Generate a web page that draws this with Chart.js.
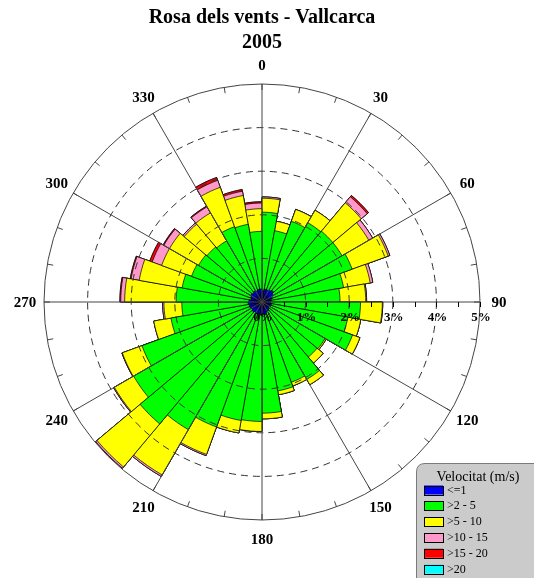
<!DOCTYPE html>
<html><head><meta charset="utf-8">
<script src="https://cdn.jsdelivr.net/npm/chart.js@4/dist/chart.umd.min.js"></script>
<style>html,body{margin:0;padding:0;background:#fff;}</style>
</head><body>
<canvas id="c" width="534" height="578"></canvas>
<script>
// ---- data (percent of observations per 10° sector, per speed class) ----
const directions = [0,10,20,30,40,50,60,70,80,90,100,110,120,130,140,150,160,170,180,190,200,210,220,230,240,250,260,270,280,290,300,310,320,330,340,350];
const speedClasses = ['<=1', '>2 - 5', '>5 - 10', '>10 - 15', '>15 - 20', '>20'];
const speedLe1   = [0.25,0.30,0.30,0.32,0.35,0.30,0.25,0.22,0.20,0.20,0.22,0.20,0.20,0.22,0.25,0.25,0.30,0.28,0.30,0.28,0.30,0.28,0.30,0.28,0.30,0.30,0.32,0.30,0.25,0.28,0.30,0.28,0.30,0.28,0.30,0.30];
const speed2to5  = [1.81,1.36,1.67,1.78,1.77,1.82,1.95,1.68,1.59,2.06,1.78,2.01,1.47,1.43,1.80,1.71,1.77,2.27,2.44,2.48,2.75,3.10,3.35,3.12,2.63,1.82,1.52,1.67,1.61,1.44,1.38,1.37,1.32,1.56,1.51,1.32];
const speed5to10 = [0.32,0.22,0.29,0.33,0.85,0.71,0.88,0.62,0.59,0.50,0.30,0.18,0.03,0.18,0.14,0.09,0.09,0.13,0.23,0.29,0.67,1.20,1.29,0.51,0.48,0.40,0.41,1.18,1.00,0.73,0.77,0.68,0.74,0.96,0.67,0.52];
const speed10to15= [0.03,0,0,0,0.18,0.10,0.04,0.06,0.02,0.01,0,0,0,0,0,0,0,0,0,0,0.03,0.04,0.04,0.02,0.01,0,0.03,0.09,0.19,0.23,0.15,0.04,0.16,0.17,0.10,0.13];
const speed15to20= [0,0,0,0,0.04,0,0,0,0,0,0,0,0,0,0,0,0,0,0,0,0,0,0,0,0,0,0,0.02,0.02,0.06,0.02,0,0.02,0.07,0.04,0.03];
const speedGt20  = [0,0,0,0,0,0,0,0,0,0,0,0,0,0,0,0,0,0,0,0,0,0,0,0,0,0,0,0,0,0,0,0,0,0,0,0];
const radialTicks = [0,1,2,3,4,5];
const directionLabels = [0,30,60,90,120,150,180,210,240,270,300,330];
const titleLines = ['Rosa dels vents - Vallcarca', '2005'];
const legendTitle = 'Velocitat (m/s)';

// ---- styles ----
const colors = ['#0000ff','#00ff00','#ffff00','#ff99cc','#ff0000','#00ffff'];
const SERIF = '"Liberation Serif", "Times New Roman", serif';

// stacked (cumulative) radii, drawn innermost on top
const series = [speedLe1, speed2to5, speed5to10, speed10to15, speed15to20, speedGt20];
let acc = directions.map(() => 0);
const datasets = series.map((s, k) => {
  acc = acc.map((a, i) => Math.round((a + s[i]) * 1000) / 1000);
  return {
    label: speedClasses[k],
    data: acc.slice(),
    backgroundColor: colors[k],
    borderColor: '#000',
    borderWidth: 0.7,
    angle: 10
  };
});

const decor = {
  id: 'decor',
  afterDatasetsDraw(chart) {
    const s = chart.scales.r;
    const ctx = chart.ctx;
    const cx = s.xCenter, cy = s.yCenter;
    const R = s.getDistanceFromCenterForValue(radialTicks[radialTicks.length - 1]);
    ctx.save();
    // dashed inner rings
    ctx.strokeStyle = '#333';
    ctx.lineWidth = 1;
    ctx.setLineDash([7, 5]);
    radialTicks.slice(1, -1).forEach(v => {
      ctx.beginPath();
      ctx.arc(cx, cy, s.getDistanceFromCenterForValue(v), 0, Math.PI * 2);
      ctx.stroke();
    });
    ctx.setLineDash([]);
    // outer ring
    ctx.strokeStyle = '#444';
    ctx.beginPath();
    ctx.arc(cx, cy, R, 0, Math.PI * 2);
    ctx.stroke();
    // spokes
    ctx.strokeStyle = '#444';
    directionLabels.forEach(d => {
      const a = (d - 90) * Math.PI / 180;
      ctx.beginPath();
      ctx.moveTo(cx, cy);
      ctx.lineTo(cx + R * Math.cos(a), cy + R * Math.sin(a));
      ctx.stroke();
    });
    // outer ticks every sector
    directions.forEach(d => {
      const a = (d - 90) * Math.PI / 180;
      ctx.beginPath();
      ctx.moveTo(cx + R * Math.cos(a), cy + R * Math.sin(a));
      ctx.lineTo(cx + (R - 6) * Math.cos(a), cy + (R - 6) * Math.sin(a));
      ctx.stroke();
    });
    // axis minor ticks along 90° spoke
    ctx.strokeStyle = '#000';
    for (let k = 1; k < radialTicks.length; k++) {
      [radialTicks[k] - 0.5, radialTicks[k]].forEach(v => {
        const x = Math.round(cx + s.getDistanceFromCenterForValue(v)) + 0.5;
        ctx.beginPath();
        ctx.moveTo(x, cy);
        ctx.lineTo(x, cy + 5);
        ctx.stroke();
      });
    }
    // percent labels
    ctx.fillStyle = '#000';
    ctx.font = 'bold 13px ' + SERIF;
    ctx.textAlign = 'center';
    ctx.textBaseline = 'middle';
    radialTicks.forEach(v => {
      ctx.fillText(v + '%', cx + s.getDistanceFromCenterForValue(v) + 1, cy + 16);
    });
    // direction labels
    ctx.font = 'bold 15px ' + SERIF;
    directionLabels.forEach(d => {
      const a = (d - 90) * Math.PI / 180;
      const rl = R + 19;
      ctx.fillText(String(d), cx + rl * Math.cos(a), cy + rl * Math.sin(a) + 1);
    });
    ctx.restore();
  },
  afterDraw(chart) {
    const ctx = chart.ctx;
    const x0 = 416, y0 = 463, w = 130, h = 130, rr = 9;
    ctx.save();
    ctx.fillStyle = '#cbcbcb';
    ctx.strokeStyle = '#7a7a7a';
    ctx.lineWidth = 1;
    ctx.beginPath();
    ctx.moveTo(x0 + rr, y0 + 0.5);
    ctx.lineTo(x0 + w, y0 + 0.5);
    ctx.lineTo(x0 + w, y0 + h);
    ctx.lineTo(x0 + 0.5, y0 + h);
    ctx.lineTo(x0 + 0.5, y0 + rr);
    ctx.quadraticCurveTo(x0 + 0.5, y0 + 0.5, x0 + rr, y0 + 0.5);
    ctx.closePath();
    ctx.fill();
    ctx.stroke();
    ctx.fillStyle = '#000';
    ctx.font = '14px ' + SERIF;
    ctx.textAlign = 'center';
    ctx.textBaseline = 'middle';
    ctx.fillText(legendTitle, 478, 477);
    ctx.textAlign = 'left';
    ctx.font = '12px ' + SERIF;
    chart.data.datasets.forEach((ds, i) => {
      const y = 490 + i * 15.8;
      ctx.fillStyle = ds.backgroundColor;
      ctx.fillRect(424, y - 4.5, 19, 9);
      ctx.strokeStyle = '#000';
      ctx.strokeRect(424.5, Math.round(y - 4.5) + 0.5, 19, 9);
      ctx.fillStyle = '#000';
      ctx.fillText(ds.label, 447, y + 0.5);
    });
    ctx.restore();
  }
};

new Chart(document.getElementById('c'), {
  type: 'polarArea',
  data: { labels: directions.map(String), datasets },
  options: {
    responsive: false,
    animation: false,
    events: [],
    layout: { padding: { left: 44, right: 54, top: 0, bottom: 58 } },
    scales: {
      r: {
        min: 0, max: 5, startAngle: 0,
        ticks: { display: false },
        grid: { display: false },
        angleLines: { display: false },
        pointLabels: { display: false }
      }
    },
    plugins: {
      legend: { display: false },
      tooltip: { enabled: false },
      title: {
        display: true,
        text: titleLines,
        color: '#000',
        font: { family: SERIF, size: 20, weight: 'bold', lineHeight: 1.25 },
        padding: { top: 5, bottom: 29 }
      }
    }
  },
  plugins: [decor]
});
</script>
</body></html>
